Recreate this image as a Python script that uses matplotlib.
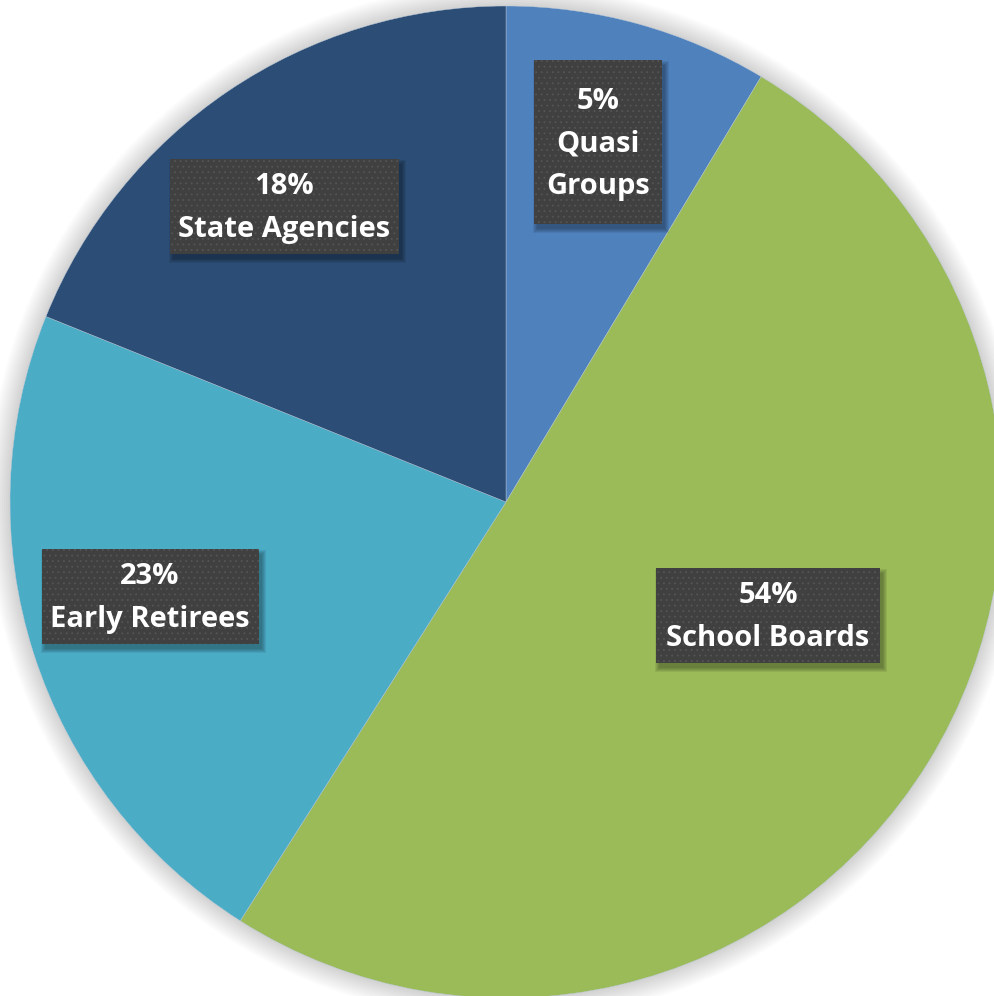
import matplotlib
matplotlib.use("Agg")
import matplotlib.pyplot as plt
from matplotlib.patches import Rectangle, Circle

# slice sizes (angles), printed labels as shown
names = ["Quasi\nGroups", "School Boards", "Early Retirees", "State Agencies"]
shares = [8.6, 50.4, 22.1, 18.9]
pct_text = ["5%", "54%", "23%", "18%"]
colors = ["#4F81BD", "#9BBB59", "#4BACC6", "#2C4D75"]

# label box centres and sizes in pixels of the 994x996 picture
R = 496.0
cx, cy = 506, 502
box_centre = [(598, 142), (768, 615), (150, 596), (284, 206)]
box_size = [(128, 164), (224, 95), (217, 95), (229, 95)]

plt.rcParams["hatch.linewidth"] = 0.6

fig = plt.figure(figsize=(9.94, 9.96), dpi=100)
ax = fig.add_axes([0, 0, 1, 1])
ax.set_aspect("equal")
ax.axis("off")

# soft shadow round the pie
for k in range(12):
    ax.add_patch(Circle((0, 0), 1 + 0.004 * k, color="black", alpha=0.014, lw=0, zorder=0))

ax.pie(shares, colors=colors, startangle=90, counterclock=False, radius=1,
       wedgeprops=dict(linewidth=0.3, edgecolor="#b8c8d8"))
ax.set_xlim(-cx / R, (994 - cx) / R)
ax.set_ylim(-(996 - cy) / R, cy / R)

for i in range(len(names)):
    px, py = box_centre[i]
    w, h = box_size[i]
    x = (px - cx) / R
    y = (cy - py) / R
    # blurred drop shadow
    for k in range(1, 6):
        ax.add_patch(Rectangle((x - w / 2 / R + 4 / R - k / R, y - h / 2 / R - 4 / R - k / R),
                               (w + 2 * k - 2) / R, (h + 2 * k - 2) / R,
                               facecolor="black", alpha=0.07, lw=0, zorder=4))
    rect = Rectangle((x - w / 2 / R, y - h / 2 / R), w / R, h / R,
                     facecolor="#404040", edgecolor="#555555", linewidth=0,
                     hatch="...", zorder=5)
    ax.add_patch(rect)
    ax.text(x, y - 2 / R, pct_text[i] + "\n" + names[i], ha="center", va="center",
            color="white", fontsize=21, fontweight="bold", family="Open Sans",
            linespacing=1.62, zorder=6)

fig.savefig("out.png", dpi=100)
